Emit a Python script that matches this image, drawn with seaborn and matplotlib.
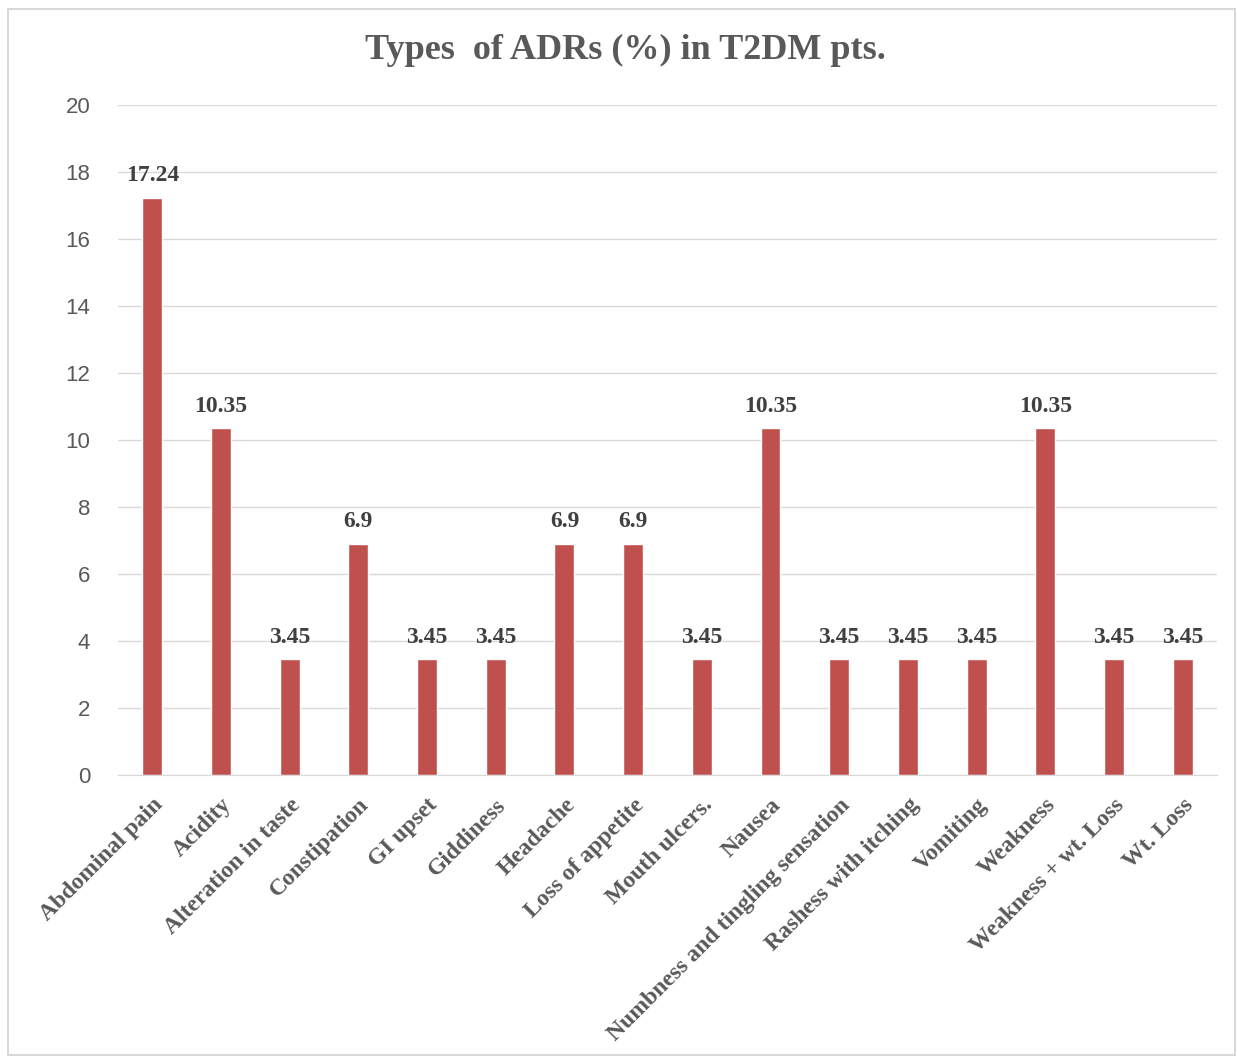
import numpy as np
import pandas as pd
import matplotlib.pyplot as plt
import seaborn as sns
from matplotlib.patches import Rectangle

# data
adr_types = ["Abdominal pain", "Acidity", "Alteration in taste", "Constipation",
             "GI upset", "Giddiness", "Headache", "Loss of appetite",
             "Mouth ulcers.", "Nausea", "Numbness and tingling sensation",
             "Rashess with itching", "Vomiting", "Weakness",
             "Weakness + wt. Loss", "Wt. Loss"]
percent = [17.24, 10.35, 3.45, 6.9, 3.45, 3.45, 6.9, 6.9,
           3.45, 10.35, 3.45, 3.45, 3.45, 10.35, 3.45, 3.45]
value_labels = ["17.24", "10.35", "3.45", "6.9", "3.45", "3.45", "6.9", "6.9",
                "3.45", "10.35", "3.45", "3.45", "3.45", "10.35", "3.45", "3.45"]

df = pd.DataFrame({"type": adr_types, "pct": percent})

sns.set_style("white")
plt.rcParams['font.family'] = ['Liberation Serif', 'DejaVu Sans']

fig = plt.figure(figsize=(12.37, 10.59), dpi=100)
ax = fig.add_axes([0.0954, 0.2682, 0.8884, 0.6326])

sns.barplot(data=df, x="type", y="pct", color="#C0504D", saturation=1,
            width=0.29, ax=ax)

ax.set_ylim(0, 20)
ax.set_yticks(np.arange(0, 21, 2))
ax.grid(axis="y", color="#D9D9D9", linewidth=1)
ax.set_axisbelow(True)
for s in ["top", "right", "left"]:
    ax.spines[s].set_visible(False)
ax.spines["bottom"].set_color("#D9D9D9")
ax.set_xlabel("")
ax.set_ylabel("")
ax.tick_params(axis="both", length=0)
ax.tick_params(axis="y", pad=20)

for lab in ax.get_yticklabels():
    lab.set_family("Liberation Sans")
    lab.set_fontsize(16)
    lab.set_color("#595959")

ax.set_xticks(range(len(adr_types)))
ax.set_xticklabels(adr_types, rotation=45, ha="right", rotation_mode="anchor",
                   fontsize=17, fontweight="bold", color="#595959")
ax.tick_params(axis="x", pad=14)

for i, (v, t) in enumerate(zip(percent, value_labels)):
    ax.text(i, v + 0.35, t, ha="center", va="bottom", fontsize=17,
            fontweight="bold", color="#404040")

fig.text(0.506, 0.952, "Types  of ADRs (%) in T2DM pts.", ha="center",
         va="center", fontsize=26, fontweight="bold", color="#595959")

fig.patches.append(Rectangle((8 / 1237, 4 / 1059), 1227 / 1237, 1046 / 1059,
                             transform=fig.transFigure, fill=False,
                             edgecolor="#D9D9D9", linewidth=1.5))

plt.savefig("out.png", dpi=100)
